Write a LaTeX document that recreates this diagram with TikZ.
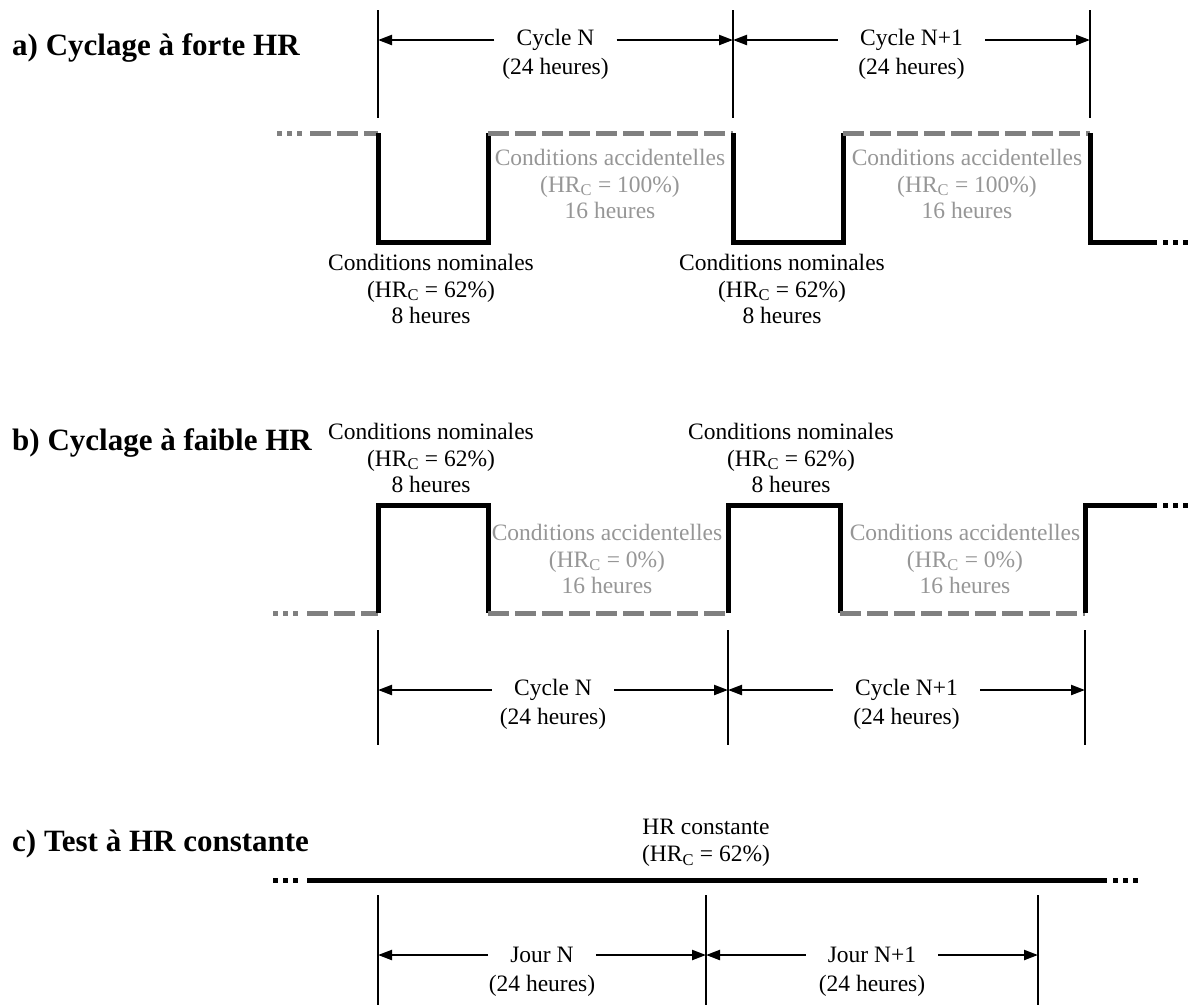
\documentclass[tikz,border=0pt]{standalone}
\usepackage{fontspec}
\setmainfont{Liberation Serif}
\usetikzlibrary{arrows.meta, positioning, calc}
\definecolor{dashgray}{HTML}{808080}
\definecolor{accgray}{HTML}{969696}

\begin{document}
\begin{tikzpicture}[x=1pt, y=-1pt,
    title/.style={anchor=base west, inner sep=0pt, font=\fontsize{31}{36}\selectfont\bfseries},
    lab/.style={align=center, inner sep=0pt, font=\fontsize{23.5}{26.5}\selectfont},
    acc/.style={lab, text=accgray},
    span/.style={inner xsep=22pt, inner ysep=0pt, font=\fontsize{23.5}{26.5}\selectfont},
    hours/.style={span, anchor=base},
    tick/.style={line width=1.5pt},
    dim/.style={line width=2.2pt, -{Triangle[length=14pt, width=10pt]}},
    sig/.style={line width=5pt, line join=miter},
    sigoff/.style={line width=5pt, dashgray, dash pattern=on 21pt off 6pt},
    dots/.style={line width=5pt, dash pattern=on 5pt off 5pt}]
    \useasboundingbox (0,0) rectangle (1197,1005);

    % a) Cyclage a forte HR
    \node[title] (ta) at (12,55) {a) Cyclage à forte HR};
    \foreach \x in {378,733,1090}
        \draw[tick] (\x,10) -- (\x,118);
    \coordinate (a1) at (378,40);
    \coordinate (a2) at (733,40);
    \coordinate (a3) at (1090,40);
    \node[span] (aN) at ($(a1)!0.5!(a2)$) {Cycle N};
    \node[hours] (aNh) at ($(aN.base)+(0,29)$) {(24 heures)};
    \node[span] (aM) at ($(a2)!0.5!(a3)$) {Cycle N+1};
    \node[hours] (aMh) at ($(aM.base)+(0,29)$) {(24 heures)};
    \draw[dim] (aN) -- (a1);
    \draw[dim] (aN) -- (a2);
    \draw[dim] (aM) -- (a2);
    \draw[dim] (aM) -- (a3);
    % signal
    \draw[dots, dashgray] (277,133) -- (304,133);
    \draw[sigoff] (310,133) -- (378,133);
    \draw[sig] (378,133) -- (378,242) -- (488,242) -- (488,133);
    \draw[sigoff] (488,133) -- (733,133);
    \draw[sig] (733,133) -- (733,242) -- (843,242) -- (843,133);
    \draw[sigoff] (843,133) -- (1090,133);
    \draw[sig] (1090,133) -- (1090,242) -- (1157,242);
    \draw[dots] (1163,242) -- (1189,242);
    \node[acc] (aacc1) at (610,184) {Conditions accidentelles\\(HR\textsubscript{C} = 100\%)\\16 heures};
    \node[acc] (aacc2) at (967,184) {Conditions accidentelles\\(HR\textsubscript{C} = 100\%)\\16 heures};
    \node[lab] (anom1) at (431,289) {Conditions nominales\\(HR\textsubscript{C} = 62\%)\\8 heures};
    \node[lab] (anom2) at (782,289) {Conditions nominales\\(HR\textsubscript{C} = 62\%)\\8 heures};

    % b) Cyclage a faible HR
    \node[title] (tb) at (12,450) {b) Cyclage à faible HR};
    \node[lab] (bnom1) at (431,458) {Conditions nominales\\(HR\textsubscript{C} = 62\%)\\8 heures};
    \node[lab] (bnom2) at (791,458) {Conditions nominales\\(HR\textsubscript{C} = 62\%)\\8 heures};
    % signal
    \draw[dots, dashgray] (273,613) -- (301,613);
    \draw[sigoff] (307,613) -- (378,613);
    \draw[sig] (378,613) -- (378,505) -- (488,505) -- (488,613);
    \draw[sigoff] (488,613) -- (728,613);
    \draw[sig] (728,613) -- (728,505) -- (840,505) -- (840,613);
    \draw[sigoff] (840,613) -- (1085,613);
    \draw[sig] (1085,613) -- (1085,505) -- (1157,505);
    \draw[dots] (1163,505) -- (1191,505);
    \node[acc] (bacc1) at (607,559) {Conditions accidentelles\\(HR\textsubscript{C} = 0\%)\\16 heures};
    \node[acc] (bacc2) at (965,559) {Conditions accidentelles\\(HR\textsubscript{C} = 0\%)\\16 heures};
    \foreach \x in {378,728,1085}
        \draw[tick] (\x,630) -- (\x,745);
    \coordinate (b1) at (378,690);
    \coordinate (b2) at (728,690);
    \coordinate (b3) at (1085,690);
    \node[span] (bN) at ($(b1)!0.5!(b2)$) {Cycle N};
    \node[hours] (bNh) at ($(bN.base)+(0,29)$) {(24 heures)};
    \node[span] (bM) at ($(b2)!0.5!(b3)$) {Cycle N+1};
    \node[hours] (bMh) at ($(bM.base)+(0,29)$) {(24 heures)};
    \draw[dim] (bN) -- (b1);
    \draw[dim] (bN) -- (b2);
    \draw[dim] (bM) -- (b2);
    \draw[dim] (bM) -- (b3);

    % c) Test a HR constante
    \node[title] (tc) at (12,851) {c) Test à HR constante};
    \node[lab] (cst) at (706,843) {HR constante\\(HR\textsubscript{C} = 62\%)};
    \draw[dots] (273,880) -- (301,880);
    \draw[sig] (307,880) -- (1107,880);
    \draw[dots] (1113,880) -- (1141,880);
    \foreach \x in {378,706,1038}
        \draw[tick] (\x,895) -- (\x,1005);
    \coordinate (c1) at (378,955);
    \coordinate (c2) at (706,955);
    \coordinate (c3) at (1038,955);
    \node[span] (cN) at ($(c1)!0.5!(c2)$) {Jour N};
    \node[hours] (cNh) at ($(cN.base)+(0,29)$) {(24 heures)};
    \node[span] (cM) at ($(c2)!0.5!(c3)$) {Jour N+1};
    \node[hours] (cMh) at ($(cM.base)+(0,29)$) {(24 heures)};
    \draw[dim] (cN) -- (c1);
    \draw[dim] (cN) -- (c2);
    \draw[dim] (cM) -- (c2);
    \draw[dim] (cM) -- (c3);
\end{tikzpicture}
\end{document}
